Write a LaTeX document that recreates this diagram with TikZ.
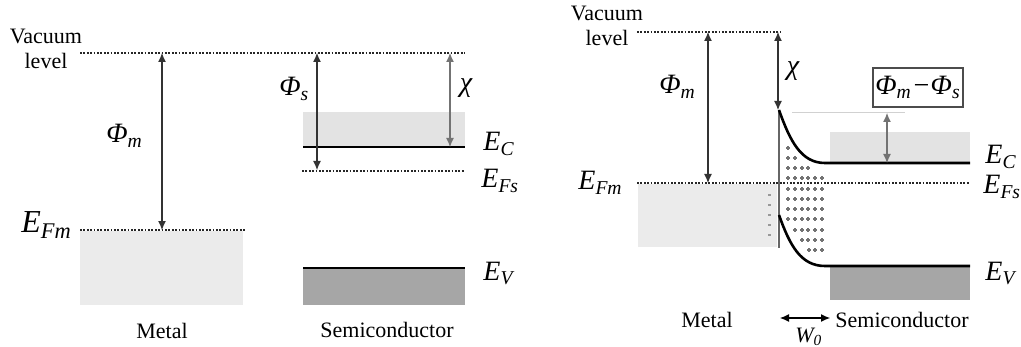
\documentclass[tikz,border=0pt]{standalone}
\usepackage{fontspec}
\setmainfont{Liberation Serif}
\usetikzlibrary{arrows.meta}
\begin{document}
\begin{tikzpicture}[x=0.5pt,y=-0.5pt,
 dotline/.style={line width=0.85pt, dash pattern=on 0.85pt off 0.85pt, black!85},
 band/.style={line width=1.3pt, black},
 dimarrow/.style={{Latex[length=4.5pt,width=4pt]}-{Latex[length=4.5pt,width=4pt]}, line width=0.55pt, black!80},
 dimgray/.style={dimarrow, black!55},
 lbl/.style={font=\fontsize{11}{12.5}\selectfont, inner sep=0pt},
 sym/.style={font=\fontsize{14}{16}\selectfont\itshape, inner sep=0pt},
 lightbox/.style={fill=black!11},
 darkbox/.style={fill=black!35},
 metalbox/.style={fill=black!8},
 plusm/.style={black!55, line width=0.55pt}]
\useasboundingbox (0,0) rectangle (1021,347);

% ================= LEFT DIAGRAM =================
\coordinate (vl1) at (80,53);   \coordinate (vl2) at (465,53);
\coordinate (efm1) at (80,230); \coordinate (efm2) at (245,230);
\coordinate (pmT) at (162,53);  \coordinate (pmB) at (162,230);
\coordinate (psT) at (317,53);  \coordinate (psB) at (317,170);
\coordinate (chT) at (450,53);  \coordinate (chB) at (450,147);
\coordinate (ec1) at (303,147); \coordinate (ec2) at (465,147);
\coordinate (efs1) at (302,171); \coordinate (efs2) at (465,171);
\coordinate (ev1) at (303,268); \coordinate (ev2) at (465,268);

% boxes
\fill[metalbox] (80,231) rectangle (243,305);
\fill[lightbox] (303,112) rectangle (465,147);
\fill[darkbox] (303,268) rectangle (465,305);

% levels
\draw[dotline] (vl1) -- (vl2);
\draw[dotline] (efm1) -- (efm2);
\draw[dotline] (efs1) -- (efs2);
\draw[band] (ec1) -- (ec2);
\draw[band] (ev1) -- (ev2);

% arrows
\draw[dimarrow] (pmT) -- (pmB);
\draw[dimarrow] (psT) -- (psB);
\draw[dimgray] (chT) -- (chB);

% labels
\node[lbl, align=center] (vacL) at (46,49) {Vacuum\\level};
\node[sym, anchor=base west, font=\fontsize{16}{18}\selectfont\itshape] (efmL) at (21,233) {E\textsubscript{Fm}};
\node[sym, anchor=base west] (phimL) at (106,143) {Φ\textsubscript{m}};
\node[sym, anchor=base west] (phisL) at (279,96) {Φ\textsubscript{s}};
\node[sym] (chiL) at (466,88) {χ};
\node[sym, anchor=base west] (ecL) at (483,151) {E\textsubscript{C}};
\node[sym, anchor=base west] (efsL) at (481,188) {E\textsubscript{Fs}};
\node[sym, anchor=base west] (evL) at (483,280) {E\textsubscript{V}};
\node[lbl, anchor=base] (metL) at (162,338) {Metal};
\node[lbl, anchor=base] (semL) at (387,337) {Semiconductor};

% ================= RIGHT DIAGRAM =================
\coordinate (rv1) at (637,32);   \coordinate (rv2) at (780,32);
\coordinate (rpmT) at (708,32);  \coordinate (rpmB) at (708,183);
\coordinate (rchT) at (778,32);  \coordinate (rchB) at (778,110);
\coordinate (ifT) at (779,110);  \coordinate (ifB) at (779,248);
\coordinate (ref1) at (637,183); \coordinate (ref2) at (970,183);
\coordinate (cbS) at (779,110);  \coordinate (cbF) at (825,163); \coordinate (cbE) at (970,163);
\coordinate (vbS) at (779,215);  \coordinate (vbF) at (825,266); \coordinate (vbE) at (970,266);
\coordinate (old1) at (792,113); \coordinate (old2) at (905,113);
\coordinate (dT) at (887,113);   \coordinate (dB) at (887,163);
\coordinate (w1) at (780,318);   \coordinate (w2) at (830,318);

% boxes
\fill[metalbox] (638,184) rectangle (777,247);
\fill[lightbox] (830,132) rectangle (970,163);
\fill[darkbox] (830,267) rectangle (970,300);

% faint original CB level
\draw[black!18, line width=0.5pt] (old1) -- (old2);

% depletion charges
\foreach \yy/\xs in {148/{788}, 158/{788,795}, 168/{788,795,802,808},
  178/{788,795,802,808,815,822}, 189/{788,795,802,808,815,822},
  199/{788,795,802,808,815,822}, 209/{788,795,802,808,815,822},
  219/{788,795,802,808,815,822}, 230/{795,802,808,815,822},
  240/{802,808,815,822}, 250/{809,815,822}}{
  \foreach \xx in \xs {
    \draw[plusm] ({\xx-2},\yy) -- ({\xx+2},\yy) (\xx,{\yy-2}) -- (\xx,{\yy+2});
  }
}
\foreach \yy in {195,205,215,225,235} \draw[plusm, black!40] (768,\yy) -- (771,\yy);

% levels
\draw[dotline] (rv1) -- (rv2);
\draw[dotline] (ref1) -- (ref2);
\draw[black!60, line width=0.7pt] (ifT) -- (ifB);
\draw[band] (cbS) .. controls (790,141) and (801,163) .. (cbF) -- (cbE);
\draw[band] (vbS) .. controls (790,246) and (801,266) .. (vbF) -- (vbE);

% arrows
\draw[dimarrow] (rpmT) -- (rpmB);
\draw[dimarrow] (rchT) -- (rchB);
\draw[dimgray] (dT) -- (dB);
\draw[dimarrow, black] (w1) -- (w2);

% labels
\node[lbl, align=center] (vacR) at (607,26) {Vacuum\\level};
\node[sym, anchor=base west] (phimR) at (659,94) {Φ\textsubscript{m}};
\node[sym] (chiR) at (793,71) {χ};
\node[sym, draw=black!70, line width=0.6pt, minimum width=45pt, minimum height=19.5pt] (diff) at (918,87.5) {Φ\textsubscript{m}−Φ\textsubscript{s}};
\node[sym, anchor=base west] (efmR) at (578,190) {E\textsubscript{Fm}};
\node[sym, anchor=base west] (ecR) at (985,164) {E\textsubscript{C}};
\node[sym, anchor=base west] (efsR) at (983,194) {E\textsubscript{Fs}};
\node[sym, anchor=base west] (evR) at (985,280) {E\textsubscript{V}};
\node[lbl, anchor=base] (metR) at (707,327) {Metal};
\node[lbl, anchor=base] (semR) at (902,327) {Semiconductor};
\node[sym, anchor=base west, font=\fontsize{11}{12}\selectfont\itshape] (w0) at (795,342) {W\textsubscript{0}};
\end{tikzpicture}
\end{document}
